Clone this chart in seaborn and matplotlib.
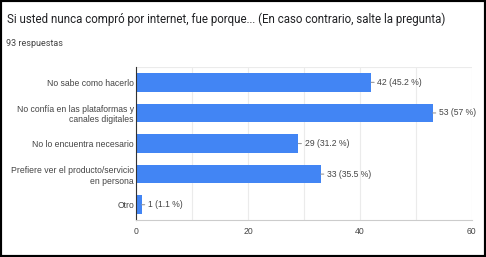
import matplotlib.pyplot as plt
import matplotlib.patches as mpatches
import pandas as pd
import seaborn as sns

title = "Si usted nunca compró por internet, fue porque... (En caso contrario, salte la pregunta)"
subtitle = "93 respuestas"
categories = [
    "No sabe como hacerlo",
    "No confía en las plataformas y\ncanales digitales",
    "No lo encuentra necesario",
    "Prefiere ver el producto/servicio\nen persona",
    "Otro",
]
counts = [42, 53, 29, 33, 1]
percents = ["45.2", "57", "31.2", "35.5", "1.1"]
x_ticks = [0, 20, 40, 60]

df = pd.DataFrame({"category": categories, "count": counts})

sns.set_theme(style="white")
plt.rcParams["font.family"] = ["Liberation Sans", "DejaVu Sans"]

fig = plt.figure(figsize=(4.86, 2.57), dpi=100)
ax = fig.add_axes([0.280, 0.144, 0.691, 0.595])

sns.barplot(data=df, x="count", y="category", color="#4285f4", saturation=1,
            width=0.61, linewidth=0, ax=ax)

ax.set_xlim(0, 60)
ax.set_ylim(4.5, -0.5)
ax.set_xticks(x_ticks)
ax.set_xticks(range(0, 61, 10), minor=True)
ax.grid(axis="x", which="both", color="#ebebeb", linewidth=0.8)
ax.set_axisbelow(True)
ax.set_xlabel("")
ax.set_ylabel("")

for side in ["top", "right"]:
    ax.spines[side].set_visible(False)
ax.spines["left"].set_color("#333333")
ax.spines["left"].set_linewidth(0.8)
ax.spines["bottom"].set_color("#cccccc")
ax.spines["bottom"].set_linewidth(0.8)
ax.axhline(-0.5, color="#ebebeb", linewidth=0.8)

ax.tick_params(axis="both", length=0, labelsize=6.2, colors="#444444", pad=1.5)
ax.tick_params(axis="x", pad=5)
for lbl in ax.get_yticklabels():
    lbl.set_multialignment("right")

for i, (c, p) in enumerate(zip(counts, percents)):
    ax.annotate(f"{c} ({p} %)", xy=(c, i), xytext=(4.5, 0), textcoords="offset points",
                ha="left", va="center", fontsize=6.2, color="#444444",
                arrowprops=dict(arrowstyle="-", color="#999999", lw=0.8,
                                shrinkA=0, shrinkB=0, relpos=(0, 0.5)))

fig.text(0.014, 0.925, title, fontsize=8.3, color="#202124", family=["Roboto", "DejaVu Sans"],
         ha="left", va="center")
fig.text(0.013, 0.829, subtitle, fontsize=6.5, color="#444444", family=["Roboto", "DejaVu Sans"],
         ha="left", va="center")

fig.patches.append(mpatches.Rectangle((0, 0), 1, 1, transform=fig.transFigure,
                                      fill=False, edgecolor="black", linewidth=3))

fig.savefig("out.png", dpi=100)
